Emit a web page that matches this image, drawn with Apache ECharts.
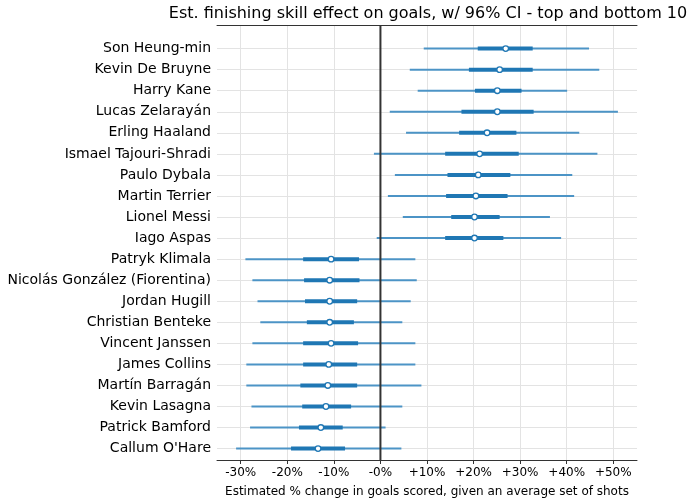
<!DOCTYPE html>
<html>
<head>
<meta charset="utf-8">
<script src="https://cdn.jsdelivr.net/npm/echarts@6/dist/echarts.min.js"></script>
<style>html,body{margin:0;padding:0;background:#fff}#c{width:694px;height:504px}</style>
</head>
<body>
<div id="c"></div>
<script>
const players = ["Son Heung-min","Kevin De Bruyne","Harry Kane","Lucas Zelarayán","Erling Haaland","Ismael Tajouri-Shradi","Paulo Dybala","Martin Terrier","Lionel Messi","Iago Aspas","Patryk Klimala","Nicolás González (Fiorentina)","Jordan Hugill","Christian Benteke","Vincent Janssen","James Collins","Martín Barragán","Kevin Lasagna","Patrick Bamford","Callum O'Hare"];
const median  = [26.9, 25.6, 25.1, 25.1, 22.9, 21.3, 21.0, 20.5, 20.2, 20.2, -10.6, -10.9, -10.9, -10.9, -10.6, -11.1, -11.3, -11.7, -12.8, -13.4];
const hdiLow  = [9.3, 6.3, 8.0, 2.0, 5.5, -1.4, 3.1, 1.6, 4.8, -0.8, -29.0, -27.5, -26.4, -25.8, -27.5, -28.8, -28.8, -27.7, -28.0, -31.0];
const hdiHigh = [44.8, 47.0, 40.1, 51.0, 42.7, 46.6, 41.2, 41.6, 36.4, 38.8, 7.5, 7.8, 6.5, 4.7, 7.5, 7.5, 8.8, 4.7, 1.1, 4.5];
const iqrLow  = [20.9, 19.0, 20.3, 17.4, 16.9, 13.9, 14.4, 14.1, 15.2, 13.9, -16.6, -16.4, -16.2, -15.8, -16.6, -16.6, -17.2, -16.8, -17.5, -19.2];
const iqrHigh = [32.7, 32.7, 30.3, 32.9, 29.2, 29.7, 27.9, 27.3, 25.6, 26.4, -4.6, -4.5, -5.0, -5.7, -4.8, -5.0, -5.0, -6.3, -8.1, -7.6];
const xTicks = [-30, -20, -10, 0, 10, 20, 30, 40, 50];

const XMIN = -35.1, XMAX = 55.1;
const FONT = "DejaVu Sans";
const fmt = v => v < 0 ? v + '%' : (v === 0 ? '-0%' : '+' + v + '%');

const rows = players.map((p, i) => [hdiLow[i], hdiHigh[i], iqrLow[i], iqrHigh[i], median[i], i]);

const chart = echarts.init(document.getElementById('c'), null, {renderer: 'canvas'});
chart.setOption({
  animation: false,
  backgroundColor: '#fff',
  textStyle: {fontFamily: FONT},
  graphic: [{
    type: 'text', x: 428, y: 6,
    style: {text: 'Est. finishing skill effect on goals, w/ 96% CI - top and bottom 10', font: '16px "DejaVu Sans"', fill: '#000', align: 'center', verticalAlign: 'top'}
  }],
  grid: [
    {left: 217, right: 57, top: 25, bottom: 44},
    {left: 217, right: 57, top: 48.6, bottom: 55.4}
  ],
  xAxis: [
    {
      type: 'value', gridIndex: 0, min: XMIN, max: XMAX, position: 'bottom',
      axisLine: {show: true, lineStyle: {color: '#333', width: 1}},
      axisTick: {show: true, length: 4, lineStyle: {color: '#333'}, customValues: xTicks},
      axisLabel: {customValues: xTicks, formatter: fmt, color: '#000', fontSize: 12, fontFamily: FONT, margin: 7},
      splitLine: {show: true, lineStyle: {color: '#e3e3e3', width: 1}},
      name: 'Estimated % change in goals scored, given an average set of shots',
      nameLocation: 'middle', nameGap: 26,
      nameTextStyle: {color: '#000', fontSize: 12, fontFamily: FONT}
    },
    {
      type: 'value', gridIndex: 0, min: XMIN, max: XMAX, position: 'top',
      axisLine: {show: true, lineStyle: {color: '#333', width: 1}},
      axisTick: {show: false}, axisLabel: {show: false}, splitLine: {show: false}
    },
    {
      type: 'value', gridIndex: 1, min: XMIN, max: XMAX, show: false,
      splitLine: {show: false}
    }
  ],
  yAxis: [
    {type: 'value', gridIndex: 0, min: 0, max: 1, show: false, splitLine: {show: false}},
    {
      type: 'category', gridIndex: 1, data: players, inverse: true, boundaryGap: false,
      axisLine: {show: false}, axisTick: {show: false},
      axisLabel: {color: '#000', fontSize: 14, fontFamily: FONT, margin: 6},
      splitLine: {show: true, lineStyle: {color: '#e3e3e3', width: 1}}
    }
  ],
  series: [
    {
      type: 'custom', xAxisIndex: 2, yAxisIndex: 1, z: 3,
      data: rows,
      encode: {x: [0, 1, 2, 3, 4], y: 5},
      renderItem: function (params, api) {
        const idx = api.value(5);
        const px = v => api.coord([v, idx])[0];
        const y = api.coord([0, idx])[1];
        return {
          type: 'group',
          children: [
            {type: 'line', shape: {x1: px(api.value(0)), y1: y, x2: px(api.value(1)), y2: y}, style: {stroke: '#4c94c6', lineWidth: 2}},
            {type: 'line', shape: {x1: px(api.value(2)), y1: y, x2: px(api.value(3)), y2: y}, style: {stroke: '#1f77b4', lineWidth: 4}},
            {type: 'circle', shape: {cx: px(api.value(4)), cy: y, r: 2.8}, style: {fill: '#fff', stroke: '#1f77b4', lineWidth: 1.3}}
          ]
        };
      }
    },
    {
      type: 'line', xAxisIndex: 0, yAxisIndex: 0, z: 5,
      data: [[0, 0], [0, 1]], showSymbol: false, symbol: 'none',
      lineStyle: {color: '#333', width: 2}, silent: true
    }
  ]
});
</script>
</body>
</html>
